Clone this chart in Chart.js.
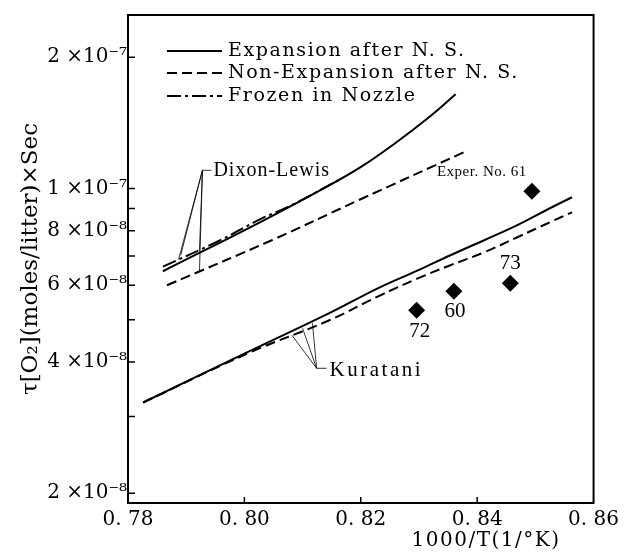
<!DOCTYPE html>
<html>
<head>
<meta charset="utf-8">
<script src="https://cdn.jsdelivr.net/npm/chart.js@4.4.1/dist/chart.umd.min.js"></script>
<style>
  html, body { margin: 0; padding: 0; background: #fff; }
  #wrap { width: 624px; height: 556px; }
</style>
</head>
<body>
<div id="wrap"><canvas id="chart" width="624" height="556"></canvas></div>
<script>
// Dixon-Lewis curves
const dixonExpX = [0.7860, 0.8030, 0.8145, 0.8201, 0.8259, 0.8315, 0.8363];
const dixonExpY = [6.46e-8, 8.41e-8, 1.015e-7, 1.122e-7, 1.27e-7, 1.449e-7, 1.645e-7];
const dixonNonX = [0.7867, 0.8047, 0.8196, 0.8377];
const dixonNonY = [6.0e-8, 7.61e-8, 9.4e-8, 1.211e-7];
const dixonFrzX = [0.7860, 0.7955, 0.8030, 0.8075, 0.8162];
const dixonFrzY = [6.62e-8, 7.57e-8, 8.54e-8, 9.07e-8, 1.045e-7];

// Kuratani curves
const kurX = [0.7826, 0.8008, 0.8145, 0.8230, 0.8298, 0.8354, 0.8412, 0.8469, 0.8525, 0.8563];
const kurExpY = [3.23e-8, 4.23e-8, 5.17e-8, 5.91e-8, 6.49e-8, 7.03e-8, 7.61e-8, 8.24e-8, 9.01e-8, 9.55e-8];
const kurNonY = [3.23e-8, 4.2e-8, 4.98e-8, 5.66e-8, 6.22e-8, 6.67e-8, 7.14e-8, 7.73e-8, 8.37e-8, 8.82e-8];

// experiments
const expX = [0.8296, 0.8360, 0.8457, 0.8494];
const expY = [5.26e-8, 5.81e-8, 6.06e-8, 9.86e-8];
const expNames = ['72', '60', '73', 'Exper. No. 61'];

// axes
const xTickValues = [0.78, 0.80, 0.82, 0.84, 0.86];
const xTickLabels = ['0. 78', '0. 80', '0. 82', '0. 84', '0. 86'];
const yTickValues = [2e-8, 3e-8, 4e-8, 5e-8, 6e-8, 7e-8, 8e-8, 9e-8, 1e-7, 2e-7];
const yTickLabels = ['2 ×10⁻⁸', '', '4 ×10⁻⁸', '', '6 ×10⁻⁸', '', '8 ×10⁻⁸', '', '1 ×10⁻⁷', '2 ×10⁻⁷'];
const xTitle = '1000/T(1/°K)';
const yTitle = 'τ[O₂](moles/litter)×Sec';

const legendNames = ['Expansion after N. S.', 'Non-Expansion after N. S.', 'Frozen in Nozzle'];

const DASH = [10, 5];
const DASHDOT = [14, 4, 3, 4];

const pts = (xs, ys) => xs.map((x, i) => ({ x: x, y: ys[i] }));

function lineSet(label, xs, ys, dash) {
  return {
    label: label,
    data: pts(xs, ys),
    showLine: true,
    borderColor: '#000',
    borderWidth: 2,
    borderDash: dash,
    pointRadius: 0,
    tension: 0.4,
    fill: false
  };
}

// label offsets (px) for the experiment numbers
const expLabelOffsets = [[3, 21], [1, 20], [0, -20], [-50, -19]];

// leader lines: [fromX, fromY, toX, toY] in data units
const dixonLeaders = [
  [0.79279, 1.101e-7, 0.7887, 6.88e-8],
  [0.79279, 1.101e-7, 0.78906, 7.03e-8],
  [0.79279, 1.101e-7, 0.79228, 7.18e-8],
  [0.79279, 1.101e-7, 0.79228, 6.46e-8]
];
const kurLeaders = [
  [0.81241, 3.87e-8, 0.80815, 4.61e-8],
  [0.81241, 3.87e-8, 0.8100, 4.78e-8],
  [0.81241, 3.87e-8, 0.8117, 4.91e-8]
];

const framePlugin = {
  id: 'frame',
  afterDatasetsDraw(chart) {
    const { ctx, chartArea: a, scales } = chart;
    ctx.save();
    ctx.strokeStyle = '#000';
    ctx.lineWidth = 2;
    ctx.strokeRect(a.left, a.top, a.right - a.left, a.bottom - a.top);
    ctx.lineWidth = 1.5;
    ctx.beginPath();
    yTickValues.forEach(v => {
      const y = scales.y.getPixelForValue(v);
      ctx.moveTo(a.left, y);
      ctx.lineTo(a.left + 7, y);
    });
    xTickValues.slice(1, -1).forEach(v => {
      const x = scales.x.getPixelForValue(v);
      ctx.moveTo(x, a.bottom);
      ctx.lineTo(x, a.bottom - 6);
    });
    ctx.stroke();

    // x axis title, right under the last ticks
    ctx.fillStyle = '#000';
    ctx.textBaseline = 'middle';
    ctx.textAlign = 'right';
    ctx.font = '20px "DejaVu Serif"';
    ctx.letterSpacing = '1.5px';
    ctx.fillText(xTitle, a.right - 33, 541);

    // legend in the top left corner
    ctx.textAlign = 'left';
    ctx.font = '19px "DejaVu Serif"';
    ctx.letterSpacing = '1.6px';
    const rows = [36, 58, 81];
    chart.data.datasets.slice(0, 3).forEach((ds, i) => {
      const y = a.top + rows[i];
      ctx.setLineDash(ds.borderDash);
      ctx.lineWidth = 2;
      ctx.beginPath();
      ctx.moveTo(a.left + 39, y);
      ctx.lineTo(a.left + 94, y);
      ctx.stroke();
      ctx.setLineDash([]);
      ctx.fillText(legendNames[i], a.left + 100, y);
    });

    // leaders
    const px = v => scales.x.getPixelForValue(v);
    const py = v => scales.y.getPixelForValue(v);
    ctx.lineWidth = 0.8;
    ctx.beginPath();
    dixonLeaders.concat(kurLeaders).forEach(l => {
      ctx.moveTo(px(l[0]), py(l[1]));
      ctx.lineTo(px(l[2]), py(l[3]));
    });
    const dx = px(dixonLeaders[0][0]), dy = py(dixonLeaders[0][1]);
    ctx.moveTo(dx, dy); ctx.lineTo(dx + 9, dy);
    const kx = px(kurLeaders[0][0]), ky = py(kurLeaders[0][1]);
    ctx.moveTo(kx, ky); ctx.lineTo(kx + 10, ky);
    ctx.stroke();

    ctx.font = '20px "Liberation Serif"';
    ctx.letterSpacing = '1px';
    ctx.fillText('Dixon-Lewis', dx + 11, dy);
    ctx.font = '21px "Liberation Serif"';
    ctx.letterSpacing = '2.5px';
    ctx.fillText('Kuratani', kx + 13, ky + 2);

    // experiment numbers
    ctx.textAlign = 'center';
    expNames.forEach((name, i) => {
      const x = px(expX[i]) + expLabelOffsets[i][0];
      const y = py(expY[i]) + expLabelOffsets[i][1];
      ctx.font = i === 3 ? '15px "Liberation Serif"' : '21px "Liberation Serif"';
      ctx.letterSpacing = i === 3 ? '0.5px' : '0px';
      ctx.fillText(name, x, y);
    });
    ctx.restore();
  }
};

const chart = new Chart(document.getElementById('chart').getContext('2d'), {
  type: 'scatter',
  data: {
    datasets: [
      lineSet('Expansion after N. S.', dixonExpX, dixonExpY, []),
      lineSet('Non-Expansion after N. S.', dixonNonX, dixonNonY, DASH),
      lineSet('Frozen in Nozzle', dixonFrzX, dixonFrzY, DASHDOT),
      lineSet('Kuratani expansion', kurX, kurExpY, []),
      lineSet('Kuratani non-expansion', kurX, kurNonY, DASH),
      {
        label: 'Experiments',
        data: pts(expX, expY),
        pointStyle: 'rectRot',
        pointRadius: 8.5,
        backgroundColor: '#000',
        borderWidth: 0
      }
    ]
  },
  options: {
    responsive: false,
    animation: false,
    layout: { padding: { top: 15, right: 27, left: 0, bottom: 0 } },
    plugins: { legend: { display: false }, tooltip: { enabled: false } },
    scales: {
      x: {
        type: 'linear',
        min: 0.78,
        max: 0.86,
        grid: { display: false, drawTicks: false },
        border: { display: false },
        afterBuildTicks: s => { s.ticks = xTickValues.map(v => ({ value: v })); },
        afterFit: s => { s.height = 53; },
        ticks: {
          autoSkip: false,
          maxRotation: 0,
          padding: 5,
          color: '#000',
          font: { family: 'DejaVu Serif', size: 20 },
          callback: (v, i) => xTickLabels[i]
        },
        title: { display: false }
      },
      y: {
        type: 'logarithmic',
        min: 1.9e-8,
        max: 2.5e-7,
        grid: { display: false, drawTicks: false },
        border: { display: false },
        afterBuildTicks: s => { s.ticks = yTickValues.map(v => ({ value: v })); },
        afterFit: s => { s.width = 128; },
        ticks: {
          autoSkip: false,
          padding: 1,
          color: '#000',
          font: { family: 'DejaVu Serif', size: 20 },
          callback: (v, i) => yTickLabels[i]
        },
        title: {
          display: true,
          text: yTitle,
          color: '#000',
          padding: { top: 17, bottom: 0 },
          font: { family: 'DejaVu Serif', size: 23 }
        }
      }
    }
  },
  plugins: [framePlugin]
});
</script>
</body>
</html>
